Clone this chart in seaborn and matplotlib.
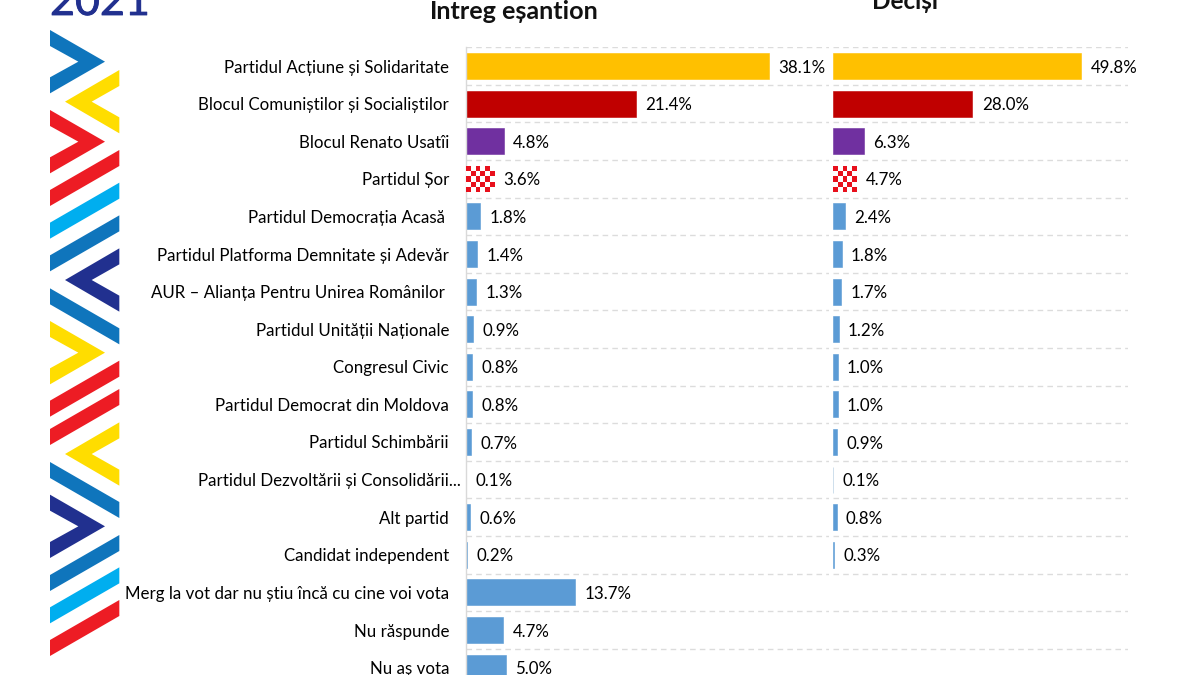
import numpy as np
import pandas as pd
import matplotlib
matplotlib.use("Agg")
import matplotlib.pyplot as plt
import matplotlib.patheffects as pe
from matplotlib.colors import ListedColormap
from matplotlib.patches import Polygon
from matplotlib.transforms import ScaledTranslation
import seaborn as sns

categories = [
    "Partidul Acțiune și Solidaritate",
    "Blocul Comuniștilor și Socialiștilor",
    "Blocul Renato Usatîi",
    "Partidul Șor",
    "Partidul Democrația Acasă ",
    "Partidul Platforma Demnitate și Adevăr",
    "AUR – Alianța Pentru Unirea Românilor ",
    "Partidul Unității Naționale",
    "Congresul Civic",
    "Partidul Democrat din Moldova",
    "Partidul Schimbării",
    "Partidul Dezvoltării și Consolidării...",
    "Alt partid",
    "Candidat independent",
    "Merg la vot dar nu știu încă cu cine voi vota",
    "Nu răspunde",
    "Nu aș vota",
]
whole_sample = [38.1, 21.4, 4.8, 3.6, 1.8, 1.4, 1.3, 0.9, 0.8, 0.8, 0.7, 0.1, 0.6, 0.2, 13.7, 4.7, 5.0]
decided = [49.8, 28.0, 6.3, 4.7, 2.4, 1.8, 1.7, 1.2, 1.0, 1.0, 0.9, 0.1, 0.8, 0.3, np.nan, np.nan, np.nan]

GOLD, RED, PURPLE, BLUE = "#FFC000", "#C00000", "#7030A0", "#5B9BD5"
palette = dict(zip(categories, [GOLD, RED, PURPLE, "white"] + [BLUE] * 13))
palette[categories[11]] = "#A9C6DE"

sns.set_style("white")
plt.rcParams["font.family"] = ["Lato", "DejaVu Sans"]

W, H = 1200, 675
fig = plt.figure(figsize=(W / 100, H / 100), dpi=100)


def make_axes(x0, x1, y0, y1):
    return fig.add_axes([x0 / W, 1 - y1 / H, (x1 - x0) / W, (y1 - y0) / H])


TOP, PITCH = 47.2, 37.6
bottom = TOP + PITCH * len(categories)
ax1 = make_axes(465.7, 829, TOP, bottom)
ax2 = make_axes(832.7, 1128, TOP, bottom)
limits = [45.6, 59.2]
series = [whole_sample, decided]
BAR_W = 0.69
LABEL_SIZE = 12.2

for ax, vals, xmax in zip((ax1, ax2), series, limits):
    df = pd.DataFrame({"cat": categories, "val": vals})
    sns.barplot(data=df, y="cat", x="val", hue="cat", order=categories, hue_order=categories,
                palette=palette, dodge=False, legend=False, width=BAR_W, saturation=1,
                ax=ax, orient="h")
    ax.set_xlim(0, xmax)
    ax.set_ylim(len(categories) - 0.5, -0.5)
    ax.set_xlabel("")
    ax.set_ylabel("")
    ax.set_xticks([])
    ax.set_yticks(np.arange(-0.5, len(categories)), minor=True)
    ax.grid(False)
    ax.grid(which="minor", axis="y", color="#DCDCDC", linestyle=(0, (4, 3)), linewidth=1)
    ax.tick_params(which="both", length=0)
    ax.set_axisbelow(True)
    for s in ("top", "right", "bottom"):
        ax.spines[s].set_visible(False)
    ax.spines["left"].set_color("#D9D9D9")
    ax.spines["left"].set_linewidth(1)
    ax.spines["left"].set_visible(ax is ax1)
    for c in ax.containers:
        if len(c.datavalues) and not np.isnan(c.datavalues).all():
            for b in c:
                b.set_edgecolor(b.get_facecolor())
                b.set_linewidth(0.4)
            for t in ax.bar_label(c, fmt="%.1f%%", padding=6.7, fontsize=LABEL_SIZE, color="black"):
                t.xyann = (t.xyann[0], t.xyann[1] - 1.2)
    # checkered fill of the Partidul Șor bar
    i = categories.index("Partidul Șor")
    px = ax.get_window_extent().width / xmax * vals[i]
    ncol = max(int(round(px / 4.8)), 1)
    grid = np.indices((5, ncol)).sum(axis=0) % 2
    ax.imshow(grid, extent=(0, vals[i], i + BAR_W / 2, i - BAR_W / 2), aspect="auto",
              cmap=ListedColormap(["#E8101C", "white"]), interpolation="nearest", zorder=3)
    ax.set_xlim(0, xmax)
    ax.set_ylim(len(categories) - 0.5, -0.5)

ax1.set_yticks(range(len(categories)), labels=categories, fontsize=LABEL_SIZE, color="black")
ax1.tick_params(axis="y", which="major", pad=12)
lab = ax1.get_yticklabels()[11]
lab.set_transform(lab.get_transform() + ScaledTranslation(12 / 100, 0, fig.dpi_scale_trans))
ax2.set_yticks(range(len(categories)), labels=[""] * len(categories))

fig.text(514 / W, 1 - 19 / H, "Întreg eșantion", ha="center", va="baseline",
         fontsize=18.1, fontweight="bold", color="#111111")
fig.text(905 / W, 1 - 9 / H, "Deciși", ha="center", va="baseline",
         fontsize=17.5, fontweight="bold", color="#111111")
year = fig.text(50 / W, 1 - 15 / H, "2021", ha="left", va="baseline", fontsize=31, color="#21308F")
year.set_path_effects([pe.withStroke(linewidth=0.6, foreground="#21308F")])

# decorative ribbon on the left
C_B, C_Y, C_R, C_L, C_N = "#0F75BC", "#FFDD00", "#ED1C24", "#00AEEF", "#21308F"


def right(y):
    return [(150, y), (315, y + 95), (150, y + 190), (150, y + 142), (235, y + 95), (150, y + 48)]


def left(y):
    return [(358, y), (195, y + 95), (358, y + 190), (358, y + 142), (275, y + 95), (358, y + 48)]


def up(y):
    return [(150, y), (358, y - 120), (358, y - 72), (150, y + 48)]


def down(y):
    return [(150, y), (358, y + 120), (358, y + 168), (150, y + 48)]


shapes = [
    (right(90), C_B), (left(210), C_Y), (right(330), C_R), (up(570), C_R), (up(668), C_L),
    (up(766), C_B), (left(745), C_N), (down(865), C_B), (right(963), C_Y), (up(1202), C_R),
    (up(1287), C_R), (left(1267), C_Y), (down(1386), C_B), (right(1484), C_N), (up(1725), C_B),
    (up(1822), C_L), (up(1920), C_R),
]
for pts, col in shapes:
    xy = [(x / 3 / W, 1 - y / 3 / H) for x, y in pts]
    fig.add_artist(Polygon(xy, closed=True, transform=fig.transFigure, facecolor=col, edgecolor="none"))

fig.savefig("out.png", dpi=100, facecolor="white")
